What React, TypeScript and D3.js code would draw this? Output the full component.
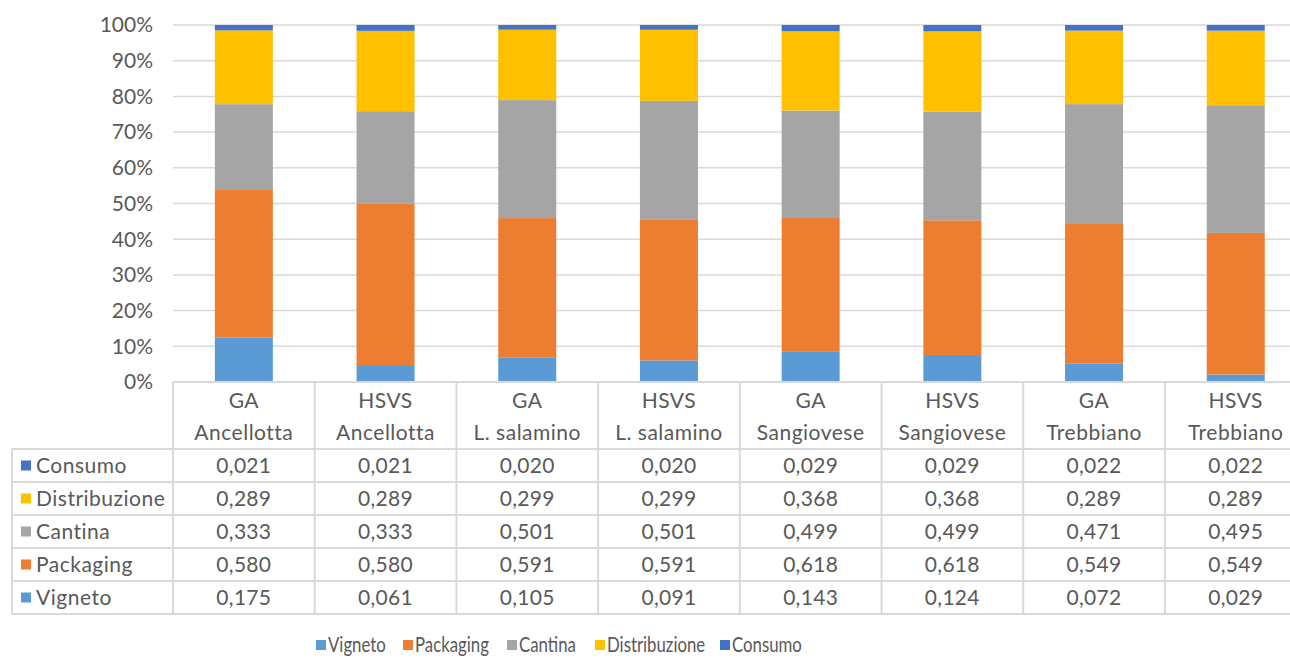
import React, { useRef, useEffect } from 'react';
import * as d3 from 'd3';

const categories = ['GA|Ancellotta', 'HSVS|Ancellotta', 'GA|L. salamino', 'HSVS|L. salamino', 'GA|Sangiovese', 'HSVS|Sangiovese', 'GA|Trebbiano', 'HSVS|Trebbiano'];
const seriesNames = ['Vigneto', 'Packaging', 'Cantina', 'Distribuzione', 'Consumo'];
const colors = ['#5B9BD5', '#ED7D31', '#A5A5A5', '#FFC000', '#4472C4'];

const vigneto = [0.175, 0.061, 0.105, 0.091, 0.143, 0.124, 0.072, 0.029];
const packaging = [0.580, 0.580, 0.591, 0.591, 0.618, 0.618, 0.549, 0.549];
const cantina = [0.333, 0.333, 0.501, 0.501, 0.499, 0.499, 0.471, 0.495];
const distribuzione = [0.289, 0.289, 0.299, 0.299, 0.368, 0.368, 0.289, 0.289];
const consumo = [0.021, 0.021, 0.020, 0.020, 0.029, 0.029, 0.022, 0.022];
const yTicks = [0, 0.1, 0.2, 0.3, 0.4, 0.5, 0.6, 0.7, 0.8, 0.9, 1];

const App = () => {
    const svgRef = useRef(null);
    const width = 1290;
    const height = 658;

    useEffect(() => {
        const svg = d3.select(svgRef.current);
        svg.selectAll('*').remove();
        const font = 'Lato, "Open Sans", sans-serif';
        const textColor = '#595959';
        const gridColor = '#D9D9D9';
        const fs = 21;

        const values = [vigneto, packaging, cantina, distribuzione, consumo];
        const rows = categories.map((c, i) => {
            const r: any = { cat: c };
            seriesNames.forEach((s, k) => { r[s] = values[k][i]; });
            return r;
        });

        const left = 173;
        const colW = 141.7;
        const x = d3.scaleBand().domain(categories).range([left, left + colW * categories.length]);
        const y = d3.scaleLinear().domain([0, 1]).range([382, 25]);
        const barW = 58;

        // gridlines
        svg.append('g').selectAll('line').data(yTicks.slice(1)).join('line')
            .attr('x1', left).attr('x2', width)
            .attr('y1', d => y(d)).attr('y2', d => y(d))
            .attr('stroke', gridColor).attr('stroke-width', 1.5);

        svg.append('g').selectAll('text').data(yTicks).join('text')
            .attr('x', 153).attr('y', d => y(d)).attr('dy', '0.35em')
            .attr('text-anchor', 'end').attr('font-family', font).attr('font-size', fs)
            .attr('fill', textColor)
            .text(d => Math.round(d * 100) + '%');

        const stack = d3.stack().keys(seriesNames).offset(d3.stackOffsetExpand);
        const layers = stack(rows);

        svg.append('g').selectAll('g').data(layers).join('g')
            .attr('fill', (d, i) => colors[i])
            .selectAll('rect').data(d => d).join('rect')
            .attr('x', (d: any) => x(d.data.cat)! + x.bandwidth() / 2 - barW / 2)
            .attr('width', barW)
            .attr('y', d => y(d[1]))
            .attr('height', d => y(d[0]) - y(d[1]));

        // data table
        const table = svg.append('g');
        const rowH = 33;
        const headTop = 382;
        const bodyTop = 449;
        const tableOrder = ['Consumo', 'Distribuzione', 'Cantina', 'Packaging', 'Vigneto'];
        const bodyBottom = bodyTop + rowH * tableOrder.length;
        const tableLeft = 12;

        table.append('line').attr('x1', left).attr('x2', width).attr('y1', headTop).attr('y2', headTop)
            .attr('stroke', gridColor).attr('stroke-width', 2);
        tableOrder.concat(['end']).forEach((_, i) => {
            table.append('line').attr('x1', tableLeft).attr('x2', width)
                .attr('y1', bodyTop + i * rowH).attr('y2', bodyTop + i * rowH)
                .attr('stroke', gridColor).attr('stroke-width', 2);
        });
        table.append('line').attr('x1', tableLeft).attr('x2', tableLeft).attr('y1', bodyTop).attr('y2', bodyBottom)
            .attr('stroke', gridColor).attr('stroke-width', 2);
        categories.concat(['end']).forEach((_, i) => {
            const xx = left + i * colW;
            table.append('line').attr('x1', xx).attr('x2', xx).attr('y1', headTop).attr('y2', bodyBottom)
                .attr('stroke', gridColor).attr('stroke-width', 2);
        });

        categories.forEach(c => {
            const cx = x(c)! + x.bandwidth() / 2;
            const parts = c.split('|');
            parts.forEach((p, j) => {
                table.append('text').attr('x', cx).attr('y', 401 + j * 32).attr('dy', '0.35em')
                    .attr('text-anchor', 'middle').attr('font-family', font).attr('font-size', fs)
                    .attr('letter-spacing', 0.5)
                    .attr('fill', textColor).text(p);
            });
        });

        tableOrder.forEach((s, r) => {
            const k = seriesNames.indexOf(s);
            const cy = bodyTop + r * rowH + rowH / 2;
            table.append('rect').attr('x', 21).attr('y', cy - 5).attr('width', 10).attr('height', 10)
                .attr('fill', colors[k]);
            table.append('text').attr('x', 36).attr('y', cy).attr('dy', '0.35em')
                .attr('font-family', font).attr('font-size', fs).attr('letter-spacing', 0.5)
                .attr('fill', textColor).text(s);
            categories.forEach((c, i) => {
                table.append('text').attr('x', x(c)! + x.bandwidth() / 2).attr('y', cy).attr('dy', '0.35em')
                    .attr('text-anchor', 'middle').attr('font-family', font).attr('font-size', fs)
                    .attr('letter-spacing', 0.3)
                    .attr('fill', textColor).text(values[k][i].toFixed(3).replace('.', ','));
            });
        });

        // legend
        const legendX = [316, 403, 507, 595, 720];
        const legend = svg.append('g');
        seriesNames.forEach((s, i) => {
            legend.append('rect').attr('x', legendX[i]).attr('y', 640).attr('width', 10).attr('height', 10)
                .attr('fill', colors[i]);
            legend.append('text')
                .attr('transform', `translate(${legendX[i] + 12},645) scale(0.8,1)`)
                .attr('dy', '0.35em')
                .attr('font-family', font).attr('font-size', fs).attr('fill', textColor).text(s);
        });
    }, []);

    return (
        <svg ref={svgRef} width={width} height={height}
            style={{ position: 'absolute', left: 0, top: 0, background: '#fff' }} />
    );
};

export default App;
